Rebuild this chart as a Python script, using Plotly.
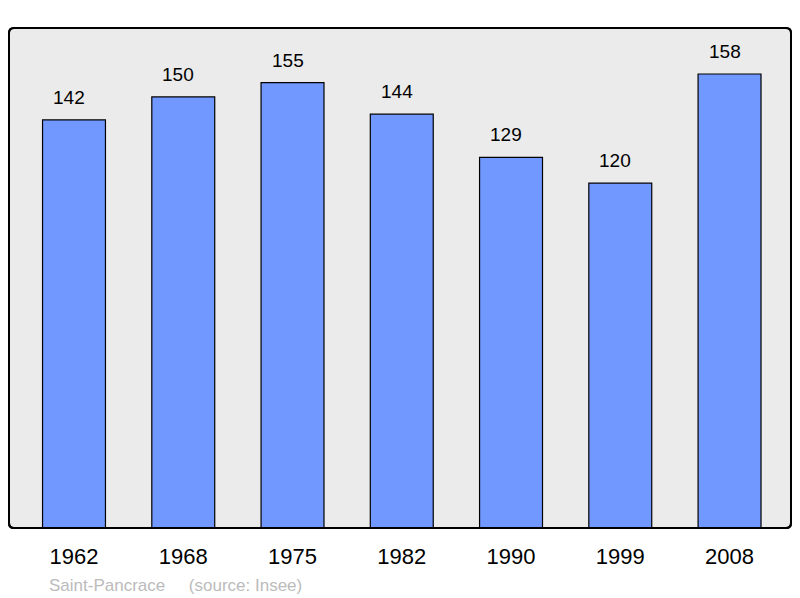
import plotly.graph_objects as go

years = ["1962", "1968", "1975", "1982", "1990", "1999", "2008"]
population = [142, 150, 155, 144, 129, 120, 158]
caption = "Saint-Pancrace\u00a0\u00a0\u00a0\u00a0\u00a0(source: Insee)"

xpos = list(range(len(years)))

fig = go.Figure()
fig.add_trace(go.Bar(
    x=xpos, y=population, width=0.576,
    marker=dict(color="#7098ff", line=dict(color="black", width=1.2)),
    hoverinfo="skip",
))

for xi, v in zip(xpos, population):
    fig.add_annotation(x=xi, y=v, text=str(v), showarrow=False, yanchor="bottom",
                       yshift=10, xshift=-5,
                       font=dict(size=19, color="black", family="Liberation Sans"))

# rounded border for plot area
W, H = 800, 598
ml, mr, mt, mb = 9, 9, 28, 70
pw, ph = W - ml - mr, H - mt - mb
r = 5
rx, ry = r / pw, r / ph
path = (f"M {rx},0 L {1-rx},0 Q 1,0 1,{ry} L 1,{1-ry} Q 1,1 {1-rx},1 "
        f"L {rx},1 Q 0,1 0,{1-ry} L 0,{ry} Q 0,0 {rx},0 Z")
fig.add_shape(type="path", path=path, xref="paper", yref="paper",
              fillcolor="#ebebeb", line=dict(color="black", width=2), layer="below")
fig.add_shape(type="path", path=path, xref="paper", yref="paper",
              fillcolor="rgba(0,0,0,0)", line=dict(color="black", width=2), layer="above")

fig.add_annotation(xref="paper", yref="paper",
                   x=(47 - ml) / pw, y=-(585 - (H - mb)) / ph,
                   xanchor="left", yanchor="middle", text=caption, showarrow=False,
                   font=dict(size=17, color="#bbbbbb", family="Liberation Sans"))

fig.update_layout(
    width=W, height=H,
    margin=dict(l=ml, r=mr, t=mt, b=mb, pad=0),
    paper_bgcolor="white", plot_bgcolor="rgba(0,0,0,0)",
    showlegend=False,
    font=dict(family="Liberation Sans", color="black"),
    xaxis=dict(range=[-0.595, 6.5625], tickvals=xpos, ticktext=years,
               showgrid=False, zeroline=False, showline=False,
               ticks="outside", ticklen=9, tickcolor="rgba(0,0,0,0)",
               tickfont=dict(size=22, color="black")),
    yaxis=dict(range=[0, 174], showgrid=False, zeroline=False, showline=False,
               showticklabels=False, ticks=""),
)

fig.write_html("out.html", config={"displayModeBar": False},
               post_script="document.body.style.margin='0';document.body.style.overflow='hidden';")
